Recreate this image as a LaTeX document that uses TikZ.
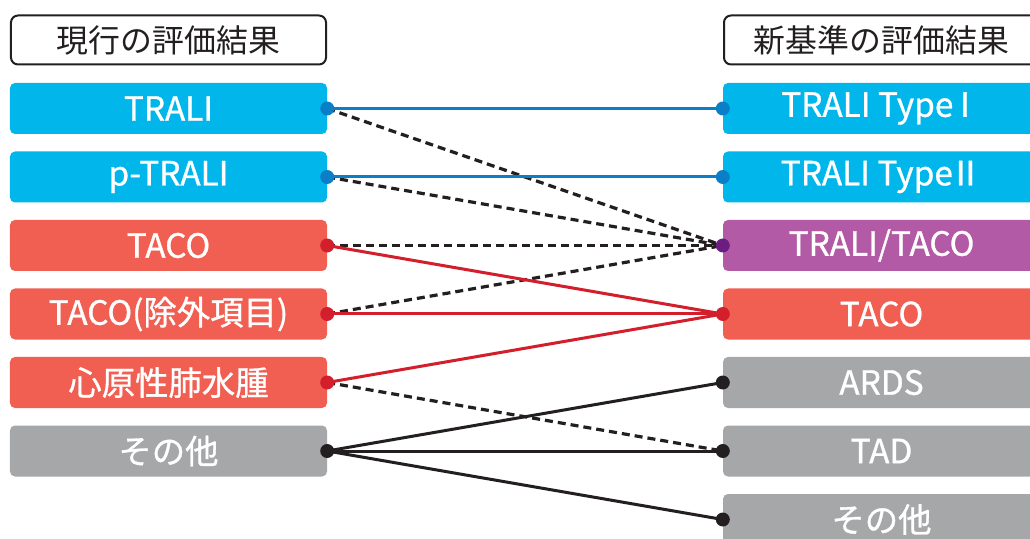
\documentclass[tikz,border=0pt]{standalone}
\usepackage{fontspec}
\setmainfont{Noto Sans CJK JP}
\newfontfamily\boxfont[FakeBold=0.9]{Noto Sans CJK JP}
\definecolor{cyanbox}{HTML}{00B6EB}
\definecolor{bluel}{HTML}{0A7FC8}
\definecolor{redbox}{HTML}{F05F51}
\definecolor{redl}{HTML}{D21F2B}
\definecolor{purbox}{HTML}{B25AA5}
\definecolor{purdot}{HTML}{6B1E80}
\definecolor{graybox}{HTML}{A6A7A9}
\definecolor{blk}{HTML}{231F20}
\tikzset{
  box/.style={rectangle, rounded corners=5bp, minimum width=317bp, minimum height=51bp, inner sep=0pt, text=white, font=\boxfont\fontsize{33.5}{33.5}\selectfont},
  hdr/.style={rectangle, draw=blk, line width=2bp, fill=white, text=blk, minimum width=315bp, minimum height=49bp, rounded corners=7bp, inner sep=0pt, font=\fontsize{32}{32}\selectfont},
  cy/.style={box, fill=cyanbox},
  rd/.style={box, fill=redbox},
  pu/.style={box, fill=purbox},
  gy/.style={box, fill=graybox},
  conn/.style={line width=3bp},
  dsh/.style={line width=3.2bp, blk, dash pattern=on 8bp off 5bp},
  dotc/.style={circle, inner sep=0pt, minimum size=14bp},
}
\begin{document}
\begin{tikzpicture}[x=1bp,y=-1bp]
\useasboundingbox (0,0) rectangle (1030,539);
\clip (0,0) rectangle (1030,539);
% headers
\node[hdr] (hl) at (168.5,40) {現行の評価結果};
\node[hdr] (hr) at (881.5,40) {新基準の評価結果};
% left boxes
\node[cy] (l1) at (168.5,108.5) {TRALI};
\node[cy] (l2) at (168.5,177) {p-TRALI};
\node[rd] (l3) at (168.5,245.5) {TACO};
\node[rd] (l4) at (168.5,314) {TACO(除外項目)};
\node[rd] (l5) at (168.5,382.5) {心原性肺水腫};
\node[gy] (l6) at (168.5,451) {その他};
% right boxes
\node[cy] (r1) at (881.5,108.5) {TRALI Type\kern-5bp Ⅰ};
\node[cy] (r2) at (881.5,177) {TRALI Type\kern-4bp Ⅱ};
\node[pu] (r3) at (881.5,245.5) {TRALI/TACO};
\node[rd] (r4) at (881.5,314) {TACO};
\node[gy] (r5) at (881.5,382.5) {ARDS};
\node[gy] (r6) at (881.5,451) {TAD};
\node[gy] (r7) at (881.5,519.5) {その他};
% connectors
\draw[dsh] (l1.east) -- (r3.west);
\draw[dsh] (l2.east) -- (r3.west);
\draw[dsh] (l3.east) -- (r3.west);
\draw[dsh] (l4.east) -- (r3.west);
\draw[dsh] (l5.east) -- (r6.west);
\draw[conn, bluel] (l1.east) -- (r1.west);
\draw[conn, bluel] (l2.east) -- (r2.west);
\draw[conn, redl] (l3.east) -- (r4.west);
\draw[conn, redl] (l4.east) -- (r4.west);
\draw[conn, redl] (l5.east) -- (r4.west);
\draw[conn, blk] (l6.east) -- (r5.west);
\draw[conn, blk] (l6.east) -- (r6.west);
\draw[conn, blk] (l6.east) -- (r7.west);
% dots
\node[dotc, fill=bluel] (d1) at (l1.east) {};
\node[dotc, fill=bluel] (d2) at (l2.east) {};
\node[dotc, fill=redl] (d3) at (l3.east) {};
\node[dotc, fill=redl] (d4) at (l4.east) {};
\node[dotc, fill=redl] (d5) at (l5.east) {};
\node[dotc, fill=blk] (d6) at (l6.east) {};
\node[dotc, fill=bluel] (e1) at (r1.west) {};
\node[dotc, fill=bluel] (e2) at (r2.west) {};
\node[dotc, fill=purdot] (e3) at (r3.west) {};
\node[dotc, fill=redl] (e4) at (r4.west) {};
\node[dotc, fill=blk] (e5) at (r5.west) {};
\node[dotc, fill=blk] (e6) at (r6.west) {};
\node[dotc, fill=blk] (e7) at (r7.west) {};
\end{tikzpicture}
\end{document}
